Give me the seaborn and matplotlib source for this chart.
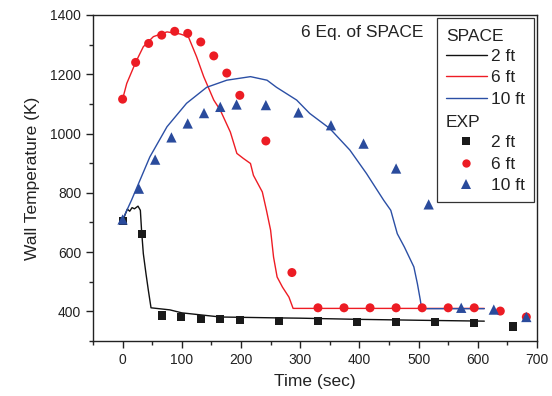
import numpy as np
import pandas as pd
import matplotlib
matplotlib.use("Agg")
import matplotlib.pyplot as plt
import seaborn as sns
from matplotlib.lines import Line2D
from matplotlib.text import Text
from matplotlib.legend_handler import HandlerBase
from matplotlib.ticker import MultipleLocator

# ---------------- data ----------------
# SPACE simulation lines
space_2ft_t = [0, 8, 12, 16, 20, 26, 30, 32, 35, 39.5, 43.5, 48, 80, 100, 165, 260, 300, 400, 500, 611]
space_2ft_T = [705, 745, 738, 750, 746, 755, 741, 674, 595, 527, 471, 412, 405, 395, 381, 378, 377, 373, 370, 367]

space_6ft_t = [0, 7, 22, 35, 52, 75, 97, 111, 125, 137, 154, 165, 182, 193, 204, 216, 221,
               236, 243, 250, 255, 261, 270, 281, 288, 611]
space_6ft_T = [1116, 1169, 1240, 1293, 1327, 1343, 1336, 1327, 1259, 1192, 1113, 1079, 1005, 933, 916,
               899, 859, 803, 741, 674, 583, 516, 482, 448, 410, 410]

space_10ft_t = [0, 15, 46, 75, 108, 142, 176, 216, 244, 260, 294, 316, 350, 384, 412, 441, 453,
                464, 476, 492, 498, 503, 505, 611]
space_10ft_T = [710, 775, 921, 1023, 1102, 1156, 1180, 1192, 1180, 1156, 1113, 1068, 1017, 944,
                865, 775, 741, 662, 617, 550, 493, 437, 409, 409]

# Experimental points
exp_2ft_t = [0, 33, 66, 99, 132, 165, 198, 264, 330, 396, 462, 528, 594, 660]
exp_2ft_T = [705, 662, 386, 380, 375, 373, 371, 368, 367, 365, 364, 363, 362, 349]

exp_6ft_t = [0, 22, 44, 66, 88, 110, 132, 154, 176, 198, 242, 286, 330, 374, 418, 462, 506,
             550, 594, 638, 682]
exp_6ft_T = [1116, 1240, 1304, 1332, 1345, 1338, 1309, 1262, 1204, 1129, 975, 531, 412, 412,
             412, 412, 412, 412, 412, 401, 381]

exp_10ft_t = [0, 27.5, 55, 82.5, 110, 137.5, 165, 192.5, 242, 297, 352, 407, 462, 517, 572,
              627, 682]
exp_10ft_T = [710, 814, 912, 987, 1034, 1069, 1090, 1098, 1096, 1071, 1028, 966, 882, 761,
              412, 406, 381]

series_labels = ["2 ft", "6 ft", "10 ft"]
x_ticks = [0, 100, 200, 300, 400, 500, 600, 700]
y_ticks = [400, 600, 800, 1000, 1200, 1400]

# ---------------- style ----------------
sns.set_style("ticks")
plt.rcParams["font.family"] = ["Liberation Sans", "DejaVu Sans"]

line_colors = {"2 ft": "#111111", "6 ft": "#ee1c24", "10 ft": "#2b4fa5"}
pt_colors = {"2 ft": "#1a1a1a", "6 ft": "#ec1c24", "10 ft": "#2a4b9c"}

lines_df = pd.concat([
    pd.DataFrame({"t": space_2ft_t, "T": space_2ft_T, "s": "2 ft"}),
    pd.DataFrame({"t": space_6ft_t, "T": space_6ft_T, "s": "6 ft"}),
    pd.DataFrame({"t": space_10ft_t, "T": space_10ft_T, "s": "10 ft"}),
], ignore_index=True)

exp = {
    "2 ft": pd.DataFrame({"t": exp_2ft_t, "T": exp_2ft_T}),
    "6 ft": pd.DataFrame({"t": exp_6ft_t, "T": exp_6ft_T}),
    "10 ft": pd.DataFrame({"t": exp_10ft_t, "T": exp_10ft_T}),
}
markers = {"2 ft": "s", "6 ft": "o", "10 ft": "^"}
msizes = {"2 ft": 34, "6 ft": 42, "10 ft": 55}

fig = plt.figure(figsize=(5.52, 3.96), dpi=100)
ax = fig.add_axes([93 / 552, 55 / 396, 444 / 552, 326 / 396])

sns.lineplot(data=lines_df, x="t", y="T", hue="s", palette=line_colors,
             hue_order=series_labels, estimator=None, sort=False, lw=1.0,
             legend=False, ax=ax)

for lab in series_labels:
    sns.scatterplot(data=exp[lab], x="t", y="T", marker=markers[lab], s=msizes[lab],
                    color=pt_colors[lab], edgecolor="none", linewidth=0,
                    legend=False, ax=ax, zorder=3)

ax.set_xlim(-50, 700)
ax.set_ylim(300, 1400)
ax.set_xticks(x_ticks)
ax.set_yticks(y_ticks)
ax.xaxis.set_minor_locator(MultipleLocator(50))
ax.yaxis.set_minor_locator(MultipleLocator(100))
ax.tick_params(which="major", direction="out", length=5, width=1, labelsize=10,
               colors="#222222", top=False, right=False)
ax.tick_params(which="minor", direction="out", length=3, width=1, top=False, right=False)
for sp in ax.spines.values():
    sp.set_visible(True)
    sp.set_linewidth(1.0)
    sp.set_color("#222222")

ax.set_xlabel("Time (sec)", fontsize=12.5, color="#222222", labelpad=5)
ax.set_ylabel("Wall Temperature (K)", fontsize=12.5, color="#222222", labelpad=7)

ax.text(302, 1340, "6 Eq. of SPACE", fontsize=12.5, color="#222222", va="center", ha="left")


# ---------------- legend ----------------
class Header:
    def __init__(self, text):
        self.text = text


class HeaderHandler(HandlerBase):
    def create_artists(self, legend, orig_handle, xdescent, ydescent, width, height,
                       fontsize, trans):
        t = Text(x=-xdescent, y=-ydescent + height / 2 - 0.1 * fontsize,
                 text=orig_handle.text, fontsize=fontsize, ha="left",
                 va="center_baseline", color="#222222", transform=trans)
        return [t]


handles = [Header("SPACE")]
labels = [""]
for lab in series_labels:
    handles.append(Line2D([], [], color=line_colors[lab], lw=1.0))
    labels.append(lab)
handles.append(Header("EXP"))
labels.append("")
for lab in series_labels:
    handles.append(Line2D([], [], color=pt_colors[lab], marker=markers[lab], ls="none",
                          markersize={"2 ft": 5.2, "6 ft": 6.0, "10 ft": 6.8}[lab],
                          markeredgewidth=0))
    labels.append(lab)

leg = ax.legend(handles, labels, handler_map={Header: HeaderHandler()},
                loc="upper right", bbox_to_anchor=(1.0, 1.0), borderaxespad=0.2,
                fontsize=12.5, frameon=True, fancybox=False, framealpha=1,
                edgecolor="#333333", handlelength=2.35, handletextpad=0.25,
                labelspacing=0.37, borderpad=0.5)
leg.get_frame().set_linewidth(0.9)
for t in leg.get_texts():
    t.set_color("#222222")

fig.savefig("out.png", dpi=100)
